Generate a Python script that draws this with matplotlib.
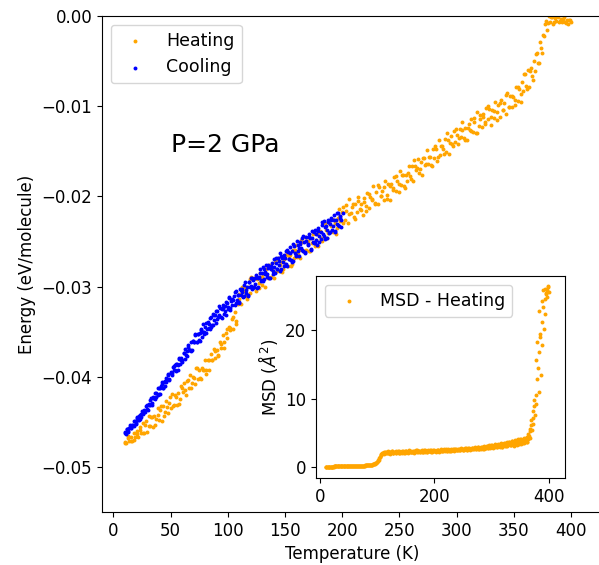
from matplotlib import pyplot as plt
import numpy as np

# heating run: temperature [K], energy [meV/molecule], MSD [A^2]
heat_T = [
    10.0, 11.2, 12.5, 13.9, 15.1, 16.4, 17.8, 19.0, 20.3, 21.6,
    22.9, 24.2, 25.6, 26.8, 28.1, 29.4, 30.8, 32.0, 33.3, 34.6,
    35.9, 37.2, 38.6, 39.8, 41.1, 42.4, 43.7, 45.0, 46.4, 47.6,
    48.9, 50.2, 51.5, 52.8, 54.2, 55.4, 56.7, 58.0, 59.3, 60.6,
    62.0, 63.2, 64.5, 65.8, 67.1, 68.4, 69.8, 71.0, 72.3, 73.6,
    74.9, 76.2, 77.6, 78.8, 80.1, 81.4, 82.7, 84.0, 85.4, 86.6,
    87.9, 89.2, 90.5, 91.8, 93.2, 94.4, 95.7, 97.0, 98.3, 99.6,
    101.0, 102.2, 103.5, 104.8, 106.1, 107.4, 108.8,
    110.1, 111.4, 112.7, 114.0, 115.3, 116.6, 118.0, 119.2, 120.5, 121.8,
    123.1, 124.4, 125.8, 127.0, 128.3, 129.6, 130.9, 132.2, 133.6, 134.8,
    136.1, 137.4, 138.7, 140.0, 141.4, 142.6, 143.9, 145.2, 146.5, 147.8,
    149.2, 150.4, 151.7, 153.0, 154.3, 155.6, 157.0, 158.2, 159.5, 160.8,
    162.1, 163.4, 164.8, 166.0, 167.3, 168.6, 169.9, 171.2, 172.6, 173.8,
    175.1, 176.4, 177.7, 179.0, 180.4, 181.6, 182.9, 184.2, 185.5, 186.8,
    188.2, 189.4, 190.7, 192.0, 193.3, 194.6, 196.0, 197.2, 198.5, 199.8,
    201.1, 202.4, 203.7, 205.0, 206.3, 207.6, 209.0, 210.2, 211.5, 212.8,
    214.1, 215.4, 216.8, 218.0, 219.3, 220.6, 221.9, 223.2, 224.6, 225.8,
    227.1, 228.4, 229.7, 231.0, 232.4, 233.6, 234.9, 236.2, 237.5, 238.8,
    240.2, 241.4, 242.7, 244.0, 245.3, 246.6, 248.0, 249.2, 250.5, 251.8,
    253.1, 254.4, 255.8, 257.0, 258.3, 259.6, 260.9, 262.2, 263.6, 264.8,
    266.1, 267.4, 268.7, 270.0, 271.4, 272.6, 273.9, 275.2, 276.5, 277.8,
    279.2, 280.4, 281.7, 283.0, 284.3, 285.6, 287.0, 288.2, 289.5, 290.8,
    292.1, 293.4, 294.8, 296.0, 297.3, 298.6, 299.9, 301.2, 302.6, 303.8,
    305.1, 306.4, 307.7, 309.0, 310.4, 311.6, 312.9, 314.2, 315.5, 316.8,
    318.2, 319.4, 320.7, 322.0, 323.3, 324.6, 326.0, 327.2, 328.5, 329.8,
    331.1, 332.4, 333.8, 335.0, 336.3, 337.6, 338.9, 340.2, 341.6, 342.8,
    344.1, 345.4, 346.7, 348.0, 349.4, 350.6, 351.9, 353.2, 354.5, 355.8,
    357.2, 358.4, 359.7, 361.0, 362.3, 363.6, 365.0, 366.2, 367.5, 368.8,
    370.1, 371.4, 372.8, 374.0, 375.3, 376.6, 377.9, 379.2, 380.6, 381.8,
    383.1, 384.4, 385.7, 387.0, 388.4, 389.6, 390.9, 392.2, 393.5, 394.8,
    396.2, 397.4, 398.7, 400.0,
    10.6, 13.2, 15.8, 18.4, 21.0, 23.6, 26.2, 28.8, 31.4, 34.0,
    36.6, 39.2, 41.8, 44.4, 47.0, 49.6, 52.2, 54.8, 57.4, 60.0,
    62.6, 65.2, 67.8, 70.4, 73.0, 75.6, 78.2, 80.8, 83.4, 86.0,
    88.6, 91.2, 93.8, 96.4, 99.0, 101.6, 104.2, 106.8, 109.4, 112.0,
    114.6, 117.2, 119.8, 122.4, 125.0, 127.6, 130.2, 132.8, 135.4, 138.0,
    140.6, 143.2, 145.8, 148.4, 151.0, 153.6, 156.2, 158.8, 161.4, 164.0,
    166.6, 169.2, 171.8, 174.4, 177.0, 179.6, 182.2, 184.8, 187.4, 190.0,
    192.6, 195.2, 197.8, 200.4, 203.0, 205.6, 208.2, 210.8, 213.4, 216.0,
    218.6, 221.2, 223.8, 226.4, 229.0, 231.6, 234.2, 236.8, 239.4, 242.0,
    244.6, 247.2, 249.8, 252.4, 255.0, 257.6, 260.2, 262.8, 265.4, 268.0,
    270.6, 273.2, 275.8, 278.4, 281.0, 283.6, 286.2, 288.8, 291.4, 294.0,
    296.6, 299.2, 301.8, 304.4, 307.0, 309.6, 312.2, 314.8, 317.4, 320.0,
    322.6, 325.2, 327.8, 330.4, 333.0, 335.6, 338.2, 340.8, 343.4, 346.0,
    348.6, 351.2, 353.8, 356.4, 359.0, 361.6, 364.2, 366.8, 369.4, 372.0,
    374.6, 377.2, 379.8, 382.4, 385.0, 387.6, 390.2, 392.8, 395.4, 398.0,
]
heat_E_meV = [
    -47.2, -47.4, -46.8, -47.1, -46.7, -47.1, -46.2, -46.7, -46.3, -46.7,
    -45.6, -46.2, -45.1, -46.2, -45.3, -46.1, -44.4, -45.5, -44.5, -45.6,
    -44.4, -44.7, -43.5, -44.8, -43.7, -44.9, -43.2, -43.9, -42.7, -44.0,
    -42.9, -43.5, -41.9, -43.1, -42.0, -43.1, -41.8, -42.5, -41.0, -41.7,
    -40.7, -42.0, -40.5, -41.3, -39.8, -40.7, -40.0, -40.8, -39.0, -40.2,
    -39.2, -40.3, -39.0, -39.3, -38.2, -39.3, -38.1, -39.2, -37.5, -38.2,
    -36.9, -37.9, -37.0, -37.6, -36.1, -36.8, -35.4, -36.1, -35.1, -35.7,
    -34.5, -34.6, -33.6, -34.7, -32.8, -34.1, -31.9,
    -30.8, -31.9, -30.0, -31.0, -30.1, -31.4, -30.0, -30.7, -28.9, -30.2,
    -29.1, -30.5, -29.2, -29.6, -28.5, -29.8, -28.6, -30.0, -28.1, -28.9,
    -27.6, -28.9, -28.1, -29.0, -27.3, -28.3, -26.8, -28.3, -27.3, -28.4,
    -26.9, -27.5, -26.3, -27.7, -26.5, -27.7, -26.0, -26.8, -25.4, -26.7,
    -25.9, -26.8, -25.1, -26.1, -24.5, -26.0, -25.0, -26.1, -24.6, -25.2,
    -24.1, -25.5, -24.2, -25.5, -23.8, -24.6, -23.0, -24.5, -23.7, -24.6,
    -23.0, -24.0, -22.5, -23.9, -22.9, -24.2, -22.4, -21.4, -22.7, -21.7,
    -21.2, -22.6, -21.6, -22.9, -20.3, -21.8, -20.9, -22.3, -20.9, -21.7,
    -20.1, -21.4, -20.8, -22.1, -20.2, -21.1, -19.6, -21.3, -20.1, -20.4,
    -18.9, -20.8, -19.5, -20.9, -19.0, -20.0, -19.4, -20.4, -18.3, -19.8,
    -18.6, -20.4, -18.6, -19.1, -17.9, -19.4, -18.3, -19.5, -17.2, -18.7,
    -17.6, -18.8, -17.6, -18.3, -16.6, -17.7, -16.6, -18.3, -16.6, -17.1,
    -15.9, -17.4, -16.2, -17.6, -15.7, -16.5, -14.9, -16.4, -15.6, -16.5,
    -14.7, -15.7, -14.7, -16.1, -13.7, -15.4, -14.4, -14.8, -13.6, -15.1,
    -13.8, -15.3, -13.3, -14.2, -12.7, -14.0, -13.2, -14.2, -12.5, -13.4,
    -11.8, -13.5, -12.4, -13.7, -12.0, -12.6, -11.4, -12.9, -11.8, -13.0,
    -10.6, -12.2, -11.0, -12.3, -11.2, -11.8, -10.2, -11.4, -10.3, -12.1,
    -10.4, -11.3, -9.5, -10.7, -9.9, -11.2, -9.3, -10.4, -9.6, -10.9,
    -8.5, -10.1, -8.9, -10.1, -9.0, -9.3, -7.9, -9.4, -8.1, -9.5,
    -7.3, -8.3, -6.4, -7.8, -6.0, -7.9, -5.8, -6.7, -5.0, -6.1,
    -4.1, -5.2, -2.9, -3.5, -2.1, -2.2, -0.5, -1.6, 0.0, -0.7,
    -0.1, -0.9, -0.2, -0.6, -0.1, -0.7, -0.3, -0.7, -0.1, -0.7,
    -0.4, -0.9, -0.4, -0.7,
    -47.3, -46.6, -47.1, -47.0, -46.0, -45.9, -46.2, -44.9, -45.5, -44.5,
    -45.4, -44.2, -43.3, -44.3, -43.4, -42.3, -43.2, -42.3, -43.0, -41.2,
    -41.5, -40.4, -41.3, -40.1, -39.0, -40.1, -39.3, -39.7, -38.1, -38.2,
    -37.1, -37.7, -36.4, -36.8, -34.7, -34.8, -33.4, -33.8, -31.4, -31.0,
    -30.5, -31.0, -29.2, -30.1, -29.0, -30.2, -28.9, -28.1, -29.0, -28.0,
    -28.4, -26.9, -27.6, -28.1, -26.5, -26.6, -27.5, -25.9, -26.4, -24.8,
    -26.1, -25.0, -26.1, -24.2, -24.8, -23.9, -24.9, -23.0, -24.1, -23.3,
    -22.6, -23.5, -22.2, -23.0, -21.0, -22.0, -21.2, -22.5, -20.5, -21.5,
    -20.6, -21.6, -19.7, -20.3, -20.7, -18.7, -20.0, -19.0, -20.3, -18.8,
    -19.3, -17.7, -18.6, -17.6, -19.1, -17.4, -18.1, -16.0, -16.9, -17.0,
    -15.7, -16.4, -15.6, -16.6, -14.4, -15.6, -14.4, -15.3, -13.0, -14.1,
    -14.4, -12.5, -13.5, -12.6, -13.7, -12.4, -12.7, -11.3, -13.0, -11.4,
    -10.9, -12.0, -10.0, -11.2, -10.5, -11.5, -9.7, -10.4, -8.8, -10.1,
    -8.9, -9.9, -7.9, -8.7, -6.4, -8.1, -6.1, -7.1, -4.2, -5.2,
    -4.1, -0.9, -0.8, -0.1, -0.7, 0.0, -0.5, -0.3, -0.8, -0.4,
]
heat_msd = [
    0.05, 0.05, 0.06, 0.05, 0.06, 0.06, 0.07, 0.06, 0.07, 0.07,
    0.07, 0.08, 0.08, 0.08, 0.08, 0.09, 0.09, 0.09, 0.09, 0.10,
    0.10, 0.10, 0.10, 0.11, 0.11, 0.11, 0.11, 0.12, 0.12, 0.12,
    0.12, 0.13, 0.13, 0.13, 0.14, 0.14, 0.14, 0.15, 0.15, 0.15,
    0.16, 0.16, 0.17, 0.17, 0.18, 0.18, 0.19, 0.19, 0.20, 0.20,
    0.21, 0.22, 0.22, 0.23, 0.24, 0.25, 0.26, 0.27, 0.28, 0.30,
    0.31, 0.33, 0.35, 0.38, 0.41, 0.45, 0.50, 0.57, 0.66, 0.78,
    0.93, 1.10, 1.30, 1.52, 1.75, 1.92, 2.05,
    2.10, 1.95, 2.18, 2.02, 2.25, 1.98, 2.12, 2.30, 2.05, 2.20,
    1.96, 2.15, 2.28, 2.08, 2.00, 2.22, 2.14, 2.35, 2.03, 2.19,
    2.26, 2.10, 2.32, 2.05, 2.17, 2.40, 2.12, 2.24, 2.08, 2.30,
    2.20, 2.36, 2.14, 2.27, 2.10, 2.42, 2.22, 2.18, 2.33, 2.15,
    2.38, 2.25, 2.12, 2.30, 2.45, 2.20, 2.34, 2.16, 2.28, 2.40,
    2.22, 2.36, 2.19, 2.48, 2.27, 2.32, 2.21, 2.44, 2.30, 2.25,
    2.38, 2.50, 2.28, 2.35, 2.23, 2.46, 2.32, 2.40, 2.29, 2.52,
    2.35, 2.22, 2.48, 2.30, 2.55, 2.26, 2.40, 2.33, 2.52, 2.28,
    2.44, 2.36, 2.58, 2.31, 2.47, 2.62, 2.38, 2.50, 2.34, 2.56,
    2.42, 2.65, 2.39, 2.53, 2.46, 2.60, 2.37, 2.68, 2.49, 2.55,
    2.44, 2.70, 2.52, 2.61, 2.47, 2.74, 2.58, 2.50, 2.66, 2.54,
    2.78, 2.57, 2.63, 2.49, 2.72, 2.60, 2.82, 2.56, 2.69, 2.75,
    2.62, 2.85, 2.58, 2.71, 2.90, 2.66, 2.78, 2.61, 2.95, 2.70,
    2.84, 2.64, 3.00, 2.76, 2.88, 2.69, 3.05, 2.80, 2.92, 2.73,
    3.10, 2.85, 2.98, 3.20, 2.78, 3.02, 2.90, 3.25, 2.82, 3.08,
    3.30, 2.95, 3.15, 2.88, 3.38, 3.05, 3.22, 2.92, 3.45, 3.12,
    3.00, 3.35, 3.18, 3.55, 3.02, 3.28, 3.62, 3.10, 3.40, 3.70,
    3.15, 3.50, 3.25, 3.85, 3.32, 3.60, 3.08, 3.95, 3.42, 3.70,
    3.20, 4.05, 3.55, 3.38, 4.15, 3.65, 3.30, 4.00, 3.75, 3.48,
    4.25, 3.60, 3.90, 4.40, 3.70, 4.10, 4.60, 5.20, 4.30, 6.10,
    5.40, 7.20, 6.30, 8.90, 7.60, 10.5, 9.20, 12.8, 14.5, 11.0,
    16.8, 19.5, 13.5, 21.2, 17.8, 23.4, 20.1, 24.6, 22.3, 25.4,
    25.9, 24.9, 26.3, 25.6,
    0.05, 0.06, 0.06, 0.07, 0.07, 0.07, 0.08, 0.08, 0.09, 0.09,
    0.10, 0.10, 0.11, 0.11, 0.12, 0.12, 0.13, 0.13, 0.14, 0.15,
    0.16, 0.17, 0.18, 0.19, 0.20, 0.21, 0.22, 0.24, 0.26, 0.29,
    0.32, 0.36, 0.43, 0.53, 0.72, 1.00, 1.42, 1.83, 2.08, 2.15,
    2.05, 2.22, 1.99, 2.16, 2.31, 2.07, 2.20, 2.12, 2.34, 2.02,
    2.25, 2.14, 2.37, 2.09, 2.29, 2.21, 2.41, 2.13, 2.26, 2.35,
    2.18, 2.43, 2.29, 2.24, 2.39, 2.17, 2.46, 2.31, 2.26, 2.37,
    2.42, 2.27, 2.51, 2.36, 2.29, 2.47, 2.38, 2.57, 2.32, 2.45,
    2.53, 2.40, 2.61, 2.35, 2.50, 2.58, 2.43, 2.66, 2.47, 2.59,
    2.52, 2.68, 2.45, 2.63, 2.76, 2.55, 2.67, 2.59, 2.80, 2.64,
    2.73, 2.58, 2.88, 2.67, 2.79, 2.96, 2.70, 2.84, 3.02, 2.77,
    2.93, 3.15, 2.86, 3.05, 3.28, 2.97, 3.12, 3.35, 3.00, 3.22,
    3.48, 3.12, 3.30, 3.65, 3.20, 3.78, 3.38, 3.55, 3.90, 3.30,
    3.62, 4.10, 3.45, 3.88, 4.30, 3.70, 4.80, 5.60, 6.80, 8.20,
    9.80, 15.6, 18.2, 22.8, 19.0, 24.2, 25.8, 26.0, 25.2, 26.4,
]

# cooling run: temperature [K], energy [meV/molecule]
cool_T = [
    10.1, 11.0, 12.0, 12.9, 13.9, 14.8, 15.8, 16.7, 17.7, 18.6,
    19.6, 20.5, 21.5, 22.4, 23.4, 24.3, 25.3, 26.2, 27.2, 28.1,
    29.1, 30.0, 31.0, 31.9, 32.9, 33.8, 34.8, 35.7, 36.7, 37.6,
    38.6, 39.5, 40.5, 41.4, 42.4, 43.3, 44.3, 45.2, 46.2, 47.1,
    48.1, 49.0, 50.0, 50.9, 51.9, 52.8, 53.8, 54.7, 55.7, 56.6,
    57.6, 58.5, 59.5, 60.4, 61.4, 62.3, 63.3, 64.2, 65.2, 66.1,
    67.1, 68.0, 69.0, 69.9, 70.9, 71.8, 72.8, 73.7, 74.7, 75.6,
    76.6, 77.5, 78.5, 79.4, 80.4, 81.3, 82.3, 83.2, 84.2, 85.1,
    86.1, 87.0, 88.0, 88.9, 89.9, 90.8, 91.8, 92.7, 93.7, 94.6,
    95.6, 96.5, 97.5, 98.4, 99.4, 100.3, 101.3, 102.2, 103.2, 104.1,
    105.1, 106.0, 107.0, 107.9, 108.9, 109.8, 110.8, 111.7, 112.7, 113.6,
    114.6, 115.5, 116.5, 117.4, 118.4, 119.3, 120.3, 121.2, 122.2, 123.1,
    124.1, 125.0, 126.0, 126.9, 127.9, 128.8, 129.8, 130.7, 131.7, 132.6,
    133.6, 134.5, 135.5, 136.4, 137.4, 138.3, 139.3, 140.2, 141.2, 142.1,
    143.1, 144.0, 145.0, 145.9, 146.9, 147.8, 148.8, 149.7, 150.7, 151.6,
    152.6, 153.5, 154.5, 155.4, 156.4, 157.3, 158.3, 159.2, 160.2, 161.1,
    162.1, 163.0, 164.0, 164.9, 165.9, 166.8, 167.8, 168.7, 169.7, 170.6,
    171.6, 172.5, 173.5, 174.4, 175.4, 176.3, 177.3, 178.2, 179.2, 180.1,
    181.1, 182.0, 183.0, 183.9, 184.9, 185.8, 186.8, 187.7, 188.7, 189.6,
    190.6, 191.5, 192.5, 193.4, 194.4, 195.3, 196.3, 197.2, 198.2, 199.1,
    10.5, 11.8, 13.1, 14.3, 15.6, 16.9, 18.2, 19.4, 20.7, 22.0,
    23.3, 24.5, 25.8, 27.1, 28.4, 29.6, 30.9, 32.2, 33.5, 34.7,
    36.0, 37.3, 38.6, 39.8, 41.1, 42.4, 43.7, 44.9, 46.2, 47.5,
    48.8, 50.0, 51.3, 52.6, 53.9, 55.1, 56.4, 57.7, 59.0, 60.2,
    61.5, 62.8, 64.1, 65.3, 66.6, 67.9, 69.2, 70.4, 71.7, 73.0,
    74.3, 75.5, 76.8, 78.1, 79.4, 80.6, 81.9, 83.2, 84.5, 85.7,
    87.0, 88.3, 89.6, 90.8, 92.1, 93.4, 94.7, 95.9, 97.2, 98.5,
    99.8, 101.0, 102.3, 103.6, 104.9, 106.1, 107.4, 108.7, 110.0, 111.2,
    112.5, 113.8, 115.1, 116.3, 117.6, 118.9, 120.2, 121.4, 122.7, 124.0,
    125.3, 126.5, 127.8, 129.1, 130.4, 131.6, 132.9, 134.2, 135.5, 136.7,
    138.0, 139.3, 140.6, 141.8, 143.1, 144.4, 145.7, 146.9, 148.2, 149.5,
    150.8, 152.0, 153.3, 154.6, 155.9, 157.1, 158.4, 159.7, 161.0, 162.2,
    163.5, 164.8, 166.1, 167.3, 168.6, 169.9, 171.2, 172.4, 173.7, 175.0,
    176.3, 177.5, 178.8, 180.1, 181.4, 182.6, 183.9, 185.2, 186.5, 187.7,
    189.0, 190.3, 191.6, 192.8, 194.1, 195.4, 196.7, 197.9, 199.2, 200.5,
]
cool_E_meV = [
    -46.1, -46.3, -45.8, -46.0, -45.7, -45.3, -45.7, -45.3, -45.5, -44.9,
    -45.2, -44.5, -44.8, -44.3, -44.7, -44.1, -43.8, -44.1, -43.7, -43.9,
    -43.1, -43.7, -43.0, -43.1, -42.4, -42.9, -42.2, -42.4, -41.8, -42.3,
    -42.0, -41.2, -41.9, -41.0, -40.6, -41.2, -40.6, -41.0, -40.1, -40.3,
    -39.7, -40.4, -39.5, -39.8, -38.9, -39.3, -38.7, -39.4, -38.6, -38.7,
    -37.9, -38.6, -37.9, -38.4, -37.4, -36.9, -37.6, -37.7, -36.7, -37.0,
    -37.0, -36.1, -37.0, -36.0, -36.1, -35.3, -36.1, -35.3, -35.9, -35.2,
    -34.8, -35.6, -34.2, -35.0, -34.5, -35.2, -33.9, -34.6, -33.5, -34.5,
    -34.3, -33.0, -33.7, -33.2, -34.0, -32.7, -33.4, -32.2, -33.4, -32.5,
    -32.0, -33.0, -32.2, -33.1, -31.8, -32.3, -31.2, -32.4, -31.6, -32.0,
    -31.0, -32.1, -30.5, -31.5, -30.9, -31.8, -30.3, -30.9, -30.3, -31.2,
    -29.8, -30.7, -30.1, -31.0, -29.5, -30.1, -29.0, -30.3, -29.3, -30.0,
    -29.7, -28.7, -30.0, -28.9, -28.1, -29.4, -28.5, -29.4, -28.1, -28.6,
    -27.6, -28.9, -27.9, -29.1, -28.0, -27.4, -28.3, -27.0, -28.5, -27.4,
    -28.1, -26.8, -27.6, -26.3, -28.0, -26.8, -27.7, -26.8, -26.1, -27.7,
    -26.2, -26.9, -25.6, -27.1, -26.1, -27.2, -25.5, -26.5, -24.9, -26.1,
    -26.6, -25.3, -25.7, -24.6, -26.1, -25.1, -26.3, -24.5, -25.4, -24.5,
    -24.6, -25.8, -23.8, -25.1, -24.0, -25.2, -24.2, -25.4, -23.5, -24.4,
    -24.7, -23.2, -24.2, -22.7, -24.7, -23.3, -23.7, -22.6, -24.1, -23.1,
    -22.6, -23.7, -22.1, -23.8, -22.6, -23.1, -21.9, -23.3, -22.2, -22.6,
    -46.2, -45.8, -46.1, -45.6, -45.7, -45.3, -44.9, -45.1, -44.6, -44.8,
    -44.2, -44.5, -43.9, -43.9, -43.2, -43.6, -43.1, -42.6, -43.1, -42.4,
    -42.5, -41.8, -41.3, -41.9, -41.3, -40.8, -41.3, -40.5, -40.6, -39.8,
    -40.3, -39.6, -39.6, -38.8, -39.3, -38.6, -39.2, -38.0, -38.1, -38.1,
    -37.4, -38.0, -37.1, -36.5, -37.0, -37.2, -36.0, -36.2, -35.4, -36.1,
    -35.3, -36.0, -34.7, -35.0, -35.3, -34.0, -34.7, -34.1, -34.7, -33.4,
    -34.3, -33.2, -32.7, -33.6, -33.1, -32.4, -33.5, -32.4, -32.7, -31.7,
    -32.5, -31.3, -32.6, -31.4, -31.5, -30.6, -31.8, -30.9, -31.7, -30.4,
    -30.6, -31.1, -29.5, -30.4, -30.9, -29.5, -29.9, -29.0, -30.0, -29.1,
    -30.2, -29.0, -28.5, -29.3, -27.8, -29.2, -28.4, -28.6, -27.6, -29.0,
    -27.7, -28.6, -27.8, -26.8, -28.0, -27.2, -28.3, -26.6, -27.3, -26.5,
    -27.5, -26.0, -27.0, -26.3, -27.3, -25.3, -26.3, -26.6, -25.4, -25.7,
    -25.1, -26.0, -24.4, -26.2, -24.9, -25.3, -24.2, -25.9, -24.6, -25.2,
    -23.7, -24.8, -23.8, -25.1, -24.0, -22.8, -24.4, -23.4, -24.6, -22.8,
    -23.9, -22.4, -23.3, -22.6, -23.9, -21.8, -23.2, -22.4, -23.4, -21.9,
]

heat_E = np.array(heat_E_meV) / 1000
cool_E = np.array(cool_E_meV) / 1000

fig = plt.figure(figsize=(5.99, 5.65), dpi=100)
ax = fig.add_axes([102 / 599, 53 / 565, 500 / 599, 496 / 565])

ax.scatter(heat_T, heat_E, s=8, linewidths=0, color="orange", label="Heating")
ax.scatter(cool_T, cool_E, s=8, linewidths=0, color="blue", label="Cooling")
ax.set_xlim(-9.9, 427)
ax.set_ylim(-0.055, 0)
ax.set_xticks(range(0, 401, 50))
ax.set_yticks([0, -0.01, -0.02, -0.03, -0.04, -0.05])
ax.tick_params(labelsize=12)
ax.set_xlabel("Temperature (K)", fontsize=12)
ax.set_ylabel("Energy (eV/molecule)", fontsize=12)
ax.legend(loc="upper left", fontsize=12.5)
ax.text(50, -0.0151, "P=2 GPa", fontsize=18)

# inset with the mean square displacement
ins = fig.add_axes([316 / 599, 87 / 565, 249 / 599, 202 / 565])
ins.scatter(heat_T, heat_msd, s=8, linewidths=0, color="orange", label="MSD - Heating")
ins.set_xlim(-7, 428)
ins.set_ylim(-1.6, 27.9)
ins.set_xticks([0, 200, 400])
ins.set_yticks([0, 10, 20])
ins.tick_params(labelsize=12)
ins.set_ylabel(r"MSD ($\AA^2$)", fontsize=12)
ins.legend(loc="upper left", fontsize=12.5)

plt.savefig("out.png", dpi=100)
